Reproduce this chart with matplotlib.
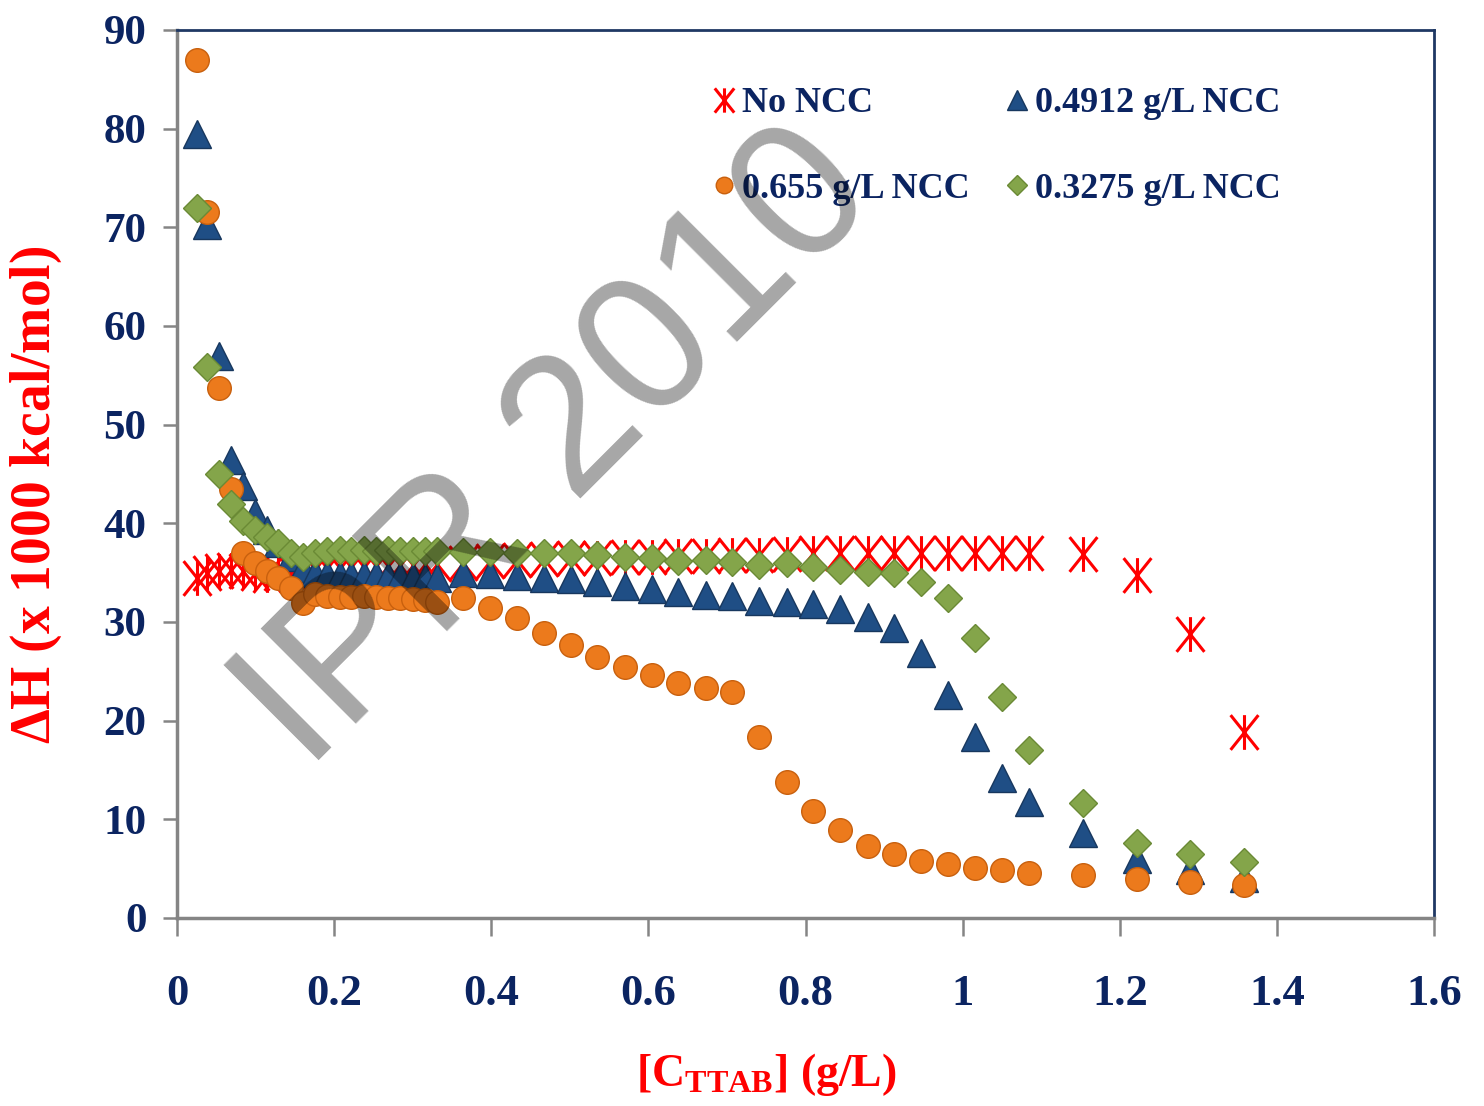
import matplotlib
matplotlib.use('Agg')
import matplotlib.pyplot as plt
from matplotlib.path import Path

# ---------------- data ----------------
x_conc = [0.025, 0.038, 0.053, 0.069, 0.084, 0.099, 0.114, 0.129, 0.145, 0.160,
          0.176, 0.191, 0.207, 0.222, 0.238, 0.253, 0.269, 0.284, 0.300, 0.315,
          0.331,
          0.364, 0.398, 0.433, 0.467, 0.501, 0.535, 0.570, 0.604, 0.638, 0.673,
          0.707, 0.741, 0.776, 0.810, 0.844, 0.879, 0.913, 0.947, 0.982, 1.016,
          1.050, 1.085,
          1.153, 1.222, 1.290, 1.358]

dh_no_ncc = [34.5, 35.0, 35.2, 35.3, 35.2, 35.0, 34.8, 35.0, 35.2, 35.3,
             35.4, 35.5, 35.5, 35.6, 35.6, 35.7, 35.7, 35.8, 35.8, 35.9,
             35.9,
             36.0, 36.2, 36.3, 36.4, 36.5, 36.5, 36.6, 36.6, 36.7, 36.7,
             36.8, 36.8, 36.9, 37.0, 37.0, 37.0, 37.0, 37.0, 37.0, 37.0,
             37.0, 37.0,
             36.9, 34.8, 28.8, 18.8]

dh_0655 = [87.0, 71.6, 53.7, 43.5, 37.0, 36.0, 35.2, 34.5, 33.4, 31.9,
           32.8, 32.6, 32.5, 32.5, 32.6, 32.5, 32.4, 32.4, 32.3, 32.2,
           32.0,
           32.4, 31.4, 30.4, 28.9, 27.7, 26.5, 25.4, 24.6, 23.8, 23.3,
           22.9, 18.3, 13.8, 10.8, 8.9, 7.3, 6.5, 5.8, 5.5, 5.1,
           4.9, 4.6,
           4.4, 3.9, 3.6, 3.3]

dh_04912 = [79.5, 70.2, 57.0, 46.4, 43.8, 41.0, 39.3, 38.0, 36.6, 35.5,
            35.0, 34.9, 34.8, 34.8, 34.8, 34.8, 34.7, 34.7, 34.6, 34.5,
            34.5,
            35.0, 34.9, 34.7, 34.5, 34.4, 34.1, 33.6, 33.3, 33.0, 32.7,
            32.6, 32.1, 32.0, 31.8, 31.3, 30.5, 29.4, 26.9, 22.6, 18.3,
            14.2, 11.8,
            8.6, 6.0, 4.9, 4.1]

dh_03275 = [72.0, 55.8, 45.0, 42.0, 40.2, 39.3, 38.6, 38.0, 37.0, 36.6,
            37.0, 37.2, 37.3, 37.2, 37.3, 37.2, 37.3, 37.2, 37.2, 37.2,
            37.2,
            37.1, 37.1, 37.0, 37.0, 37.0, 36.8, 36.6, 36.5, 36.2, 36.3,
            36.1, 35.8, 36.0, 35.6, 35.3, 35.1, 35.0, 34.1, 32.4, 28.4,
            22.4, 17.0,
            11.7, 7.6, 6.5, 5.7]

series_labels = ['No NCC', '0.655 g/L NCC', '0.4912 g/L NCC', '0.3275 g/L NCC']
xticks = [0, 0.2, 0.4, 0.6, 0.8, 1.0, 1.2, 1.4, 1.6]
xtick_labels = ['0', '0.2', '0.4', '0.6', '0.8', '1', '1.2', '1.4', '1.6']
yticks = [0, 10, 20, 30, 40, 50, 60, 70, 80, 90]
ytick_labels = ['0', '10', '20', '30', '40', '50', '60', '70', '80', '90']

# ---------------- style ----------------
plt.rcParams['font.family'] = ['Liberation Serif', 'DejaVu Serif']
plt.rcParams['font.weight'] = 'bold'
plt.rcParams['mathtext.fontset'] = 'custom'
plt.rcParams['mathtext.rm'] = 'Liberation Serif:bold'
plt.rcParams['mathtext.bf'] = 'Liberation Serif:bold'
plt.rcParams['mathtext.it'] = 'Liberation Serif:bold'

NAVY = '#0B2461'
RED = '#FF0000'
GRAY = '#858585'

star_path = Path([(-0.8, -1), (0.8, 1), (-0.8, 1), (0.8, -1), (0, -1), (0, 1)],
                 [Path.MOVETO, Path.LINETO, Path.MOVETO, Path.LINETO,
                  Path.MOVETO, Path.LINETO])

fig = plt.figure(figsize=(14.84, 11.06), dpi=100)
ax = fig.add_axes([0.1193, 0.1700, 0.8470, 0.8029])

h_red, = ax.plot(x_conc, dh_no_ncc, linestyle='none', marker=star_path,
                 markersize=25, markerfacecolor='none', markeredgecolor=RED,
                 markeredgewidth=2.2, zorder=3, label=series_labels[0])
h_blue, = ax.plot(x_conc, dh_04912, linestyle='none', marker='^',
                  markersize=20, markerfacecolor='#1F4E85',
                  markeredgecolor='#17375E', markeredgewidth=1.0, zorder=4,
                  label=series_labels[2])
h_orange, = ax.plot(x_conc, dh_0655, linestyle='none', marker='o',
                    markersize=17, markerfacecolor='#EC7A1C',
                    markeredgecolor='#C8600E', markeredgewidth=1.0, zorder=5,
                    label=series_labels[1])
h_green, = ax.plot(x_conc, dh_03275, linestyle='none', marker='D',
                   markersize=14.5, markerfacecolor='#84A54A',
                   markeredgecolor='#6A8A35', markeredgewidth=1.0, zorder=6,
                   label=series_labels[3])

ax.set_xlim(0, 1.6)
ax.set_ylim(0, 90)
ax.set_xticks(xticks)
ax.set_xticklabels(xtick_labels)
ax.set_yticks(yticks)
ax.set_yticklabels(ytick_labels)

ax.tick_params(axis='y', direction='out', length=10, width=1.8, color=GRAY,
               labelsize=31, labelcolor=NAVY, pad=12)
ax.tick_params(axis='x', direction='out', length=13, width=1.8, color=GRAY,
               labelsize=32, labelcolor=NAVY, pad=27)

for side in ['left', 'bottom']:
    ax.spines[side].set_color(GRAY)
    ax.spines[side].set_linewidth(2.5)
for side in ['top', 'right']:
    ax.spines[side].set_color('#1F3864')
    ax.spines[side].set_linewidth(2.0)

ax.set_ylabel(r'$\Delta$H (x 1000 kcal/mol)', color=RED, fontsize=40,
              fontweight='bold')
ax.yaxis.set_label_coords(-0.090, 0.476)
ax.set_xlabel(r'[C$_{\mathbf{TTAB}}$] (g/L)', color=RED, fontsize=33,
              fontweight='bold')
ax.xaxis.set_label_coords(0.469, -0.150)

leg = ax.legend(handles=[h_red, h_orange, h_blue, h_green],
                labels=[series_labels[0], series_labels[1], series_labels[2],
                        series_labels[3]],
                ncol=2, loc='upper left', bbox_to_anchor=(0.415, 0.952),
                frameon=False, fontsize=26, markerscale=0.7,
                handlelength=0.6, handletextpad=0.2, columnspacing=1.0,
                labelspacing=1.45, borderaxespad=0.0)
for t in leg.get_texts():
    t.set_color(NAVY)
    t.set_fontweight('bold')

# watermark
fig.text(0.376, 0.593, 'IPR 2010', rotation=45, ha='center', va='center',
         fontsize=140, family='Liberation Sans', fontweight='normal',
         color='black', alpha=0.35, zorder=10)

fig.savefig('out.png', dpi=100)
